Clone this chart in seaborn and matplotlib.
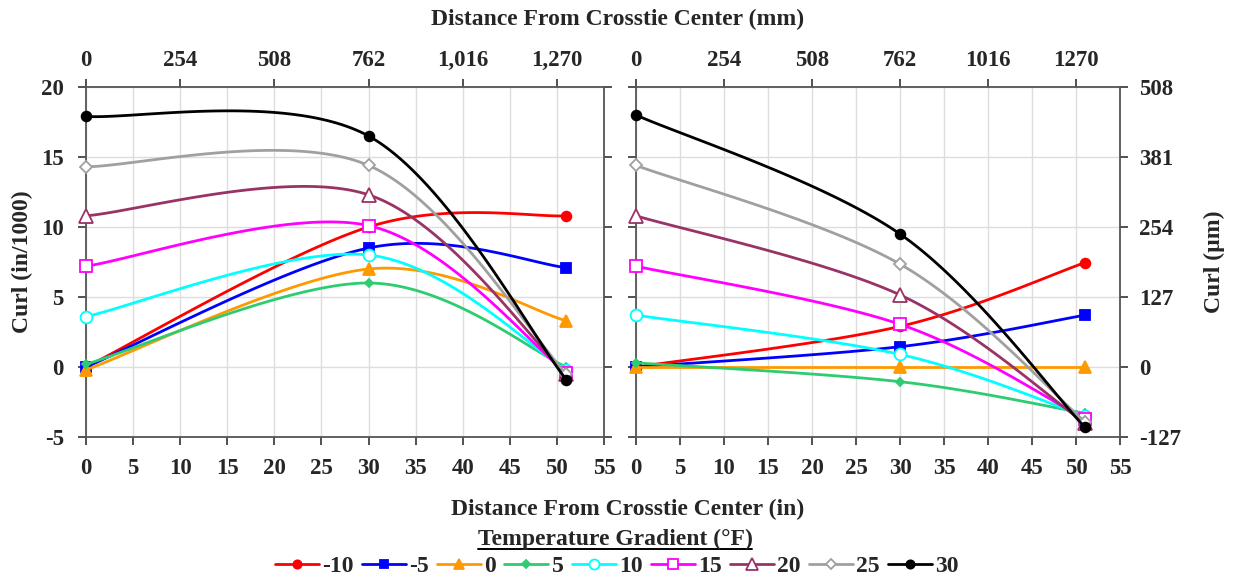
import numpy as np
import pandas as pd
import matplotlib
matplotlib.use("Agg")
import matplotlib.pyplot as plt
from matplotlib.lines import Line2D
from matplotlib.ticker import FixedLocator, FuncFormatter
import seaborn as sns

# ---- data -------------------------------------------------------------
gradients = [-10, -5, 0, 5, 10, 15, 20, 25, 30]          # temperature gradient (°F)
x_in = [0, 30, 51]                                        # distance from crosstie center (in)

# curl (in/1000) at each measurement location, left panel
left_at_0 = [0.0, 0.0, -0.2, 0.2, 3.6, 7.2, 10.8, 14.3, 17.9]
left_at_30 = [10.0, 8.5, 7.0, 6.0, 8.0, 10.1, 12.3, 14.4, 16.5]
left_at_51 = [10.8, 7.1, 3.3, 0.0, -0.2, -0.4, -0.5, -0.5, -0.9]

# curl (in/1000) at each measurement location, right panel
right_at_0 = [0.0, 0.0, 0.0, 0.3, 3.7, 7.2, 10.8, 14.4, 18.0]
right_at_30 = [2.9, 1.45, 0.0, -1.05, 0.9, 3.05, 5.15, 7.35, 9.5]
right_at_51 = [7.45, 3.7, 0.0, -3.3, -3.5, -3.7, -4.0, -3.9, -4.3]

mm_ticks_left = ["0", "254", "508", "762", "1,016", "1,270"]
mm_ticks_right = ["0", "254", "508", "762", "1016", "1270"]

# ---- styles -----------------------------------------------------------
colors = ["#FF0000", "#0000FF", "#FF9900", "#2ECC71", "#00FFFF",
          "#FF00FF", "#993366", "#A0A0A0", "#000000"]
markers = ["o", "s", "^", "D", "o", "s", "^", "D", "o"]
filled = [True, True, True, True, False, False, False, False, True]
msizes = [7, 7, 8, 4.5, 8.5, 8.5, 9.5, 6.5, 7]

sns.set_style("ticks")
plt.rcParams["font.family"] = ["Liberation Serif", "DejaVu Serif"]
plt.rcParams["font.weight"] = "bold"
plt.rcParams["axes.labelweight"] = "bold"

FS = 16.5      # tick labels
FT = 17        # titles and legend


def smooth_curve(xs, ys, n=60):
    """Catmull-Rom style Bezier smoothing through the points."""
    P = np.column_stack([xs, ys]).astype(float)
    out = []
    for i in range(len(P) - 1):
        p0 = P[i - 1] if i > 0 else P[i]
        p1, p2 = P[i], P[i + 1]
        p3 = P[i + 2] if i + 2 < len(P) else P[i + 1]
        c1 = p1 + (p2 - p0) / 6.0
        c2 = p2 - (p3 - p1) / 6.0
        t = np.linspace(0, 1, n)[:, None]
        seg = ((1 - t) ** 3) * p1 + 3 * ((1 - t) ** 2) * t * c1 + 3 * (1 - t) * t ** 2 * c2 + t ** 3 * p2
        out.append(seg if i == 0 else seg[1:])
    seg = np.vstack(out)
    return seg[:, 0], seg[:, 1]


W, H = 1233, 580
fig = plt.figure(figsize=(W / 100, H / 100), dpi=100)

def frac(x0, y0, x1, y1):
    return [x0 / W, 1 - y1 / H, (x1 - x0) / W, (y1 - y0) / H]

ax_l = fig.add_axes(frac(86, 87, 604, 437))
ax_r = fig.add_axes(frac(636, 87, 1120, 437))

panels = [
    (ax_l, [left_at_0, left_at_30, left_at_51], mm_ticks_left),
    (ax_r, [right_at_0, right_at_30, right_at_51], mm_ticks_right),
]

for ax, cols, mm_labels in panels:
    for k, g in enumerate(gradients):
        ys = [cols[0][k], cols[1][k], cols[2][k]]
        sx, sy = smooth_curve(x_in, ys)
        sns.lineplot(x=sx, y=sy, ax=ax, color=colors[k], lw=2.0, sort=False,
                     estimator=None, zorder=3 + k)
        face = colors[k] if filled[k] else "white"
        ax.plot(x_in, ys, linestyle="none", marker=markers[k], ms=msizes[k],
                mfc=face, mec=colors[k], mew=1.3, zorder=3 + k, clip_on=False)

    ax.set_xlim(0, 55)
    ax.set_ylim(-5, 20)
    ax.xaxis.set_major_locator(FixedLocator(np.arange(0, 56, 5)))
    ax.yaxis.set_major_locator(FixedLocator(np.arange(-5, 21, 5)))
    ax.grid(True, color="#DDDDDD", lw=1.0)
    ax.set_axisbelow(True)
    for s in ax.spines.values():
        s.set_color("#555555")
        s.set_linewidth(1.3)
    ax.tick_params(axis="x", which="both", direction="out", length=6, width=1.2,
                   color="#333333", labelsize=FS, pad=9)
    ax.tick_params(axis="y", which="both", direction="out", length=6, width=1.2,
                   color="#333333", labelsize=FS, right=True, left=True)
    ax.set_xlabel("")
    ax.set_ylabel("")

    # top axis in millimetres
    top = ax.secondary_xaxis("top", functions=(lambda v: v * 25.4, lambda v: v / 25.4))
    top.xaxis.set_major_locator(FixedLocator([0, 254, 508, 762, 1016, 1270]))
    top.set_xticklabels(mm_labels)
    top.tick_params(direction="out", length=6, width=1.2, color="#333333",
                    labelsize=FS, pad=5.5)
    top.spines["top"].set_visible(False)
    for t in top.get_xticklabels():
        t.set_fontweight("bold")
    for t in ax.get_xticklabels() + ax.get_yticklabels():
        t.set_fontweight("bold")

# left panel: labels on the left only
ax_l.tick_params(axis="y", labelleft=True, labelright=False, pad=10)
ax_l.set_yticklabels(["-5", "0", "5", "10", "15", "20"], fontweight="bold")
# right panel: micrometre labels on the right
ax_r.tick_params(axis="y", labelleft=False, labelright=True, pad=8)
ax_r.yaxis.set_major_formatter(FuncFormatter(lambda v, p: f"{v * 25.4:.0f}"))
for t in ax_r.get_yticklabels():
    t.set_fontweight("bold")

# axis titles
fig.text(22 / W, 1 - 262 / H, "Curl (in/1000)", rotation=90, ha="center", va="center",
         fontsize=FT, fontweight="bold")
fig.text(1214 / W, 1 - 262 / H, "Curl (µm)", rotation=90, ha="center", va="center",
         fontsize=FT, fontweight="bold")
fig.text(618 / W, 1 - 19 / H, "Distance From Crosstie Center (mm)", ha="center",
         va="center", fontsize=FT, fontweight="bold")
fig.text(628 / W, 1 - 509 / H, "Distance From Crosstie Center (in)", ha="center",
         va="center", fontsize=FT, fontweight="bold")

# legend with underlined title
title = fig.text(615 / W, 1 - 539 / H, "Temperature Gradient (°F)", ha="center",
                 va="center", fontsize=FT, fontweight="bold")
handles = []
for k, g in enumerate(gradients):
    face = colors[k] if filled[k] else "white"
    handles.append(Line2D([0], [0], color=colors[k], lw=2.0, marker=markers[k],
                          ms=msizes[k] * 0.85, mfc=face, mec=colors[k], mew=1.3))
fig.legend(handles, [str(g) for g in gradients], loc="center", ncol=9,
           bbox_to_anchor=(617 / W, 1 - 566 / H), frameon=False, handlelength=1.85,
           handletextpad=0.15, columnspacing=0.35, borderpad=0.1,
           prop={"size": FT, "weight": "bold"})

fig.canvas.draw()
bb = title.get_window_extent()
y_line = bb.y0 + 1
fig.add_artist(Line2D([bb.x0, bb.x1], [y_line, y_line], transform=None,
                      color="black", lw=1.4))

fig.savefig("out.png", dpi=100)
